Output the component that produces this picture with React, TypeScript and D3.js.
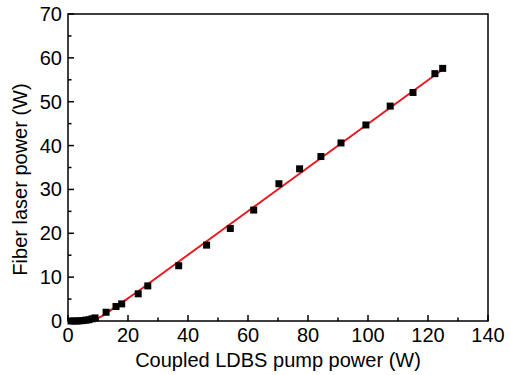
import { useEffect, useRef } from 'react';
import * as d3 from 'd3';

// measured points (pump W, laser W)
const pumpPower = [1, 2, 3, 4, 5, 6, 7, 8, 9, 12.7, 16, 17.9, 23.4, 26.6, 36.9, 46.2, 54.1, 61.9, 70.3, 77.2, 84.3, 91, 99.3, 107.4, 115, 122.3, 124.9];
const laserPower = [0, 0, 0, 0.05, 0.1, 0.2, 0.3, 0.5, 0.7, 2.0, 3.3, 3.9, 6.2, 8.0, 12.6, 17.3, 21.1, 25.3, 31.3, 34.7, 37.5, 40.6, 44.7, 49.0, 52.1, 56.4, 57.6];

// fitted curve
const fitPump = [9, 11, 13, 16, 19, 23, 27, 31, 125];
const fitLaser = [0.3, 1.0, 1.9, 3.3, 4.7, 6.6, 8.6, 10.6, 57.4];

const xTicks = [0, 20, 40, 60, 80, 100, 120, 140];
const yTicks = [0, 10, 20, 30, 40, 50, 60, 70];

export default function App() {
  const svgRef = useRef<SVGSVGElement>(null);
  const width = 511;
  const height = 375;

  useEffect(() => {
    if (!svgRef.current) return;
    const svg = d3.select(svgRef.current);
    svg.selectAll('*').remove();

    const margin = { top: 14, right: 23, bottom: 54, left: 68 };
    const innerWidth = width - margin.left - margin.right;
    const innerHeight = height - margin.top - margin.bottom;
    const font = 'Arial, "Liberation Sans", sans-serif';
    const fontSize = '20px';

    const g = svg.append('g')
      .attr('transform', `translate(${margin.left},${margin.top})`);

    const x = d3.scaleLinear().domain([0, 140]).range([0, innerWidth]);
    const y = d3.scaleLinear().domain([0, 70]).range([innerHeight, 0]);

    // Fit line
    const fit = fitPump.map((p, i) => [p, fitLaser[i]] as [number, number]);
    g.append('path')
      .datum(fit)
      .attr('fill', 'none')
      .attr('stroke', '#e8191e')
      .attr('stroke-width', 2)
      .attr('d', d3.line<[number, number]>()
        .x(d => x(d[0]))
        .y(d => y(d[1]))
        .curve(d3.curveMonotoneX));

    // Points
    const pts = pumpPower.map((p, i) => ({ p, l: laserPower[i] }));
    const s = 7;
    g.selectAll('.pt')
      .data(pts)
      .enter()
      .append('rect')
      .attr('x', d => x(d.p) - s / 2)
      .attr('y', d => y(d.l) - s / 2)
      .attr('width', s)
      .attr('height', s)
      .attr('fill', '#000');

    // Frame
    g.append('rect')
      .attr('width', innerWidth)
      .attr('height', innerHeight)
      .attr('fill', 'none')
      .attr('stroke', '#000')
      .attr('stroke-width', 1.5);

    // X ticks (inward)
    const xMinor = d3.range(10, 140, 20);
    g.selectAll('.xmaj').data(xTicks).enter().append('line')
      .attr('x1', d => x(d)).attr('x2', d => x(d))
      .attr('y1', innerHeight).attr('y2', innerHeight - 6)
      .attr('stroke', '#000').attr('stroke-width', 1.5);
    g.selectAll('.xmin').data(xMinor).enter().append('line')
      .attr('x1', d => x(d)).attr('x2', d => x(d))
      .attr('y1', innerHeight).attr('y2', innerHeight - 3.5)
      .attr('stroke', '#000').attr('stroke-width', 1.5);
    g.selectAll('.xlab').data(xTicks).enter().append('text')
      .attr('x', d => x(d))
      .attr('y', innerHeight + 21)
      .attr('text-anchor', 'middle')
      .style('font-family', font)
      .style('font-size', fontSize)
      .style('fill', '#000')
      .text(d => d);

    // Y ticks (inward)
    const yMinor = d3.range(5, 70, 10);
    g.selectAll('.ymaj').data(yTicks).enter().append('line')
      .attr('x1', 0).attr('x2', 6)
      .attr('y1', d => y(d)).attr('y2', d => y(d))
      .attr('stroke', '#000').attr('stroke-width', 1.5);
    g.selectAll('.ymin').data(yMinor).enter().append('line')
      .attr('x1', 0).attr('x2', 3.5)
      .attr('y1', d => y(d)).attr('y2', d => y(d))
      .attr('stroke', '#000').attr('stroke-width', 1.5);
    g.selectAll('.ylab').data(yTicks).enter().append('text')
      .attr('x', -6)
      .attr('y', d => y(d))
      .attr('dy', '0.35em')
      .attr('text-anchor', 'end')
      .style('font-family', font)
      .style('font-size', fontSize)
      .style('fill', '#000')
      .text(d => d);

    // Axis titles
    g.append('text')
      .attr('x', innerWidth / 2)
      .attr('y', innerHeight + 46)
      .attr('text-anchor', 'middle')
      .style('font-family', font)
      .style('font-size', fontSize)
      .style('fill', '#000')
      .text('Coupled LDBS pump power (W)');

    g.append('text')
      .attr('transform', `translate(${-41},${innerHeight / 2 + 12}) rotate(-90)`)
      .attr('text-anchor', 'middle')
      .style('font-family', font)
      .style('font-size', fontSize)
      .style('fill', '#000')
      .text('Fiber laser power (W)');
  }, []);

  return (
    <svg
      ref={svgRef}
      width={width}
      height={height}
      style={{ position: 'absolute', left: 0, top: 0, background: '#fff' }}
    />
  );
}
